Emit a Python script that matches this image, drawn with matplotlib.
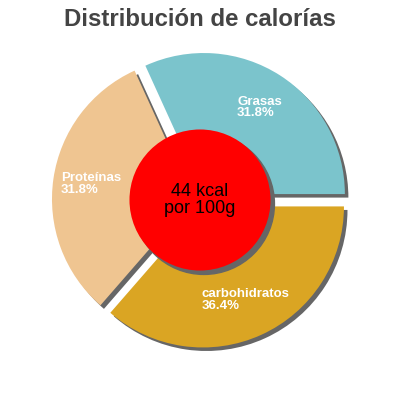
import matplotlib
matplotlib.use("Agg")
import matplotlib.pyplot as plt
from matplotlib.patches import Circle, Shadow

# ================= DATOS ===================
nombres = ["Grasas", "Proteínas", "carbohidratos"]
porcentajes = [31.8, 31.8, 36.4]
colores = ["#7bc4cc", "#efc591", "#daa523"]
titulo = "Distribución de calorías"
centro_texto = "44 kcal\npor 100g"

plt.rcParams["font.family"] = ["Liberation Sans", "DejaVu Sans"]

fig = plt.figure(figsize=(4, 4), dpi=100)
ax = fig.add_axes([0, 0, 1, 1])

etiquetas = [f"{n}\n{p:.1f}%" for n, p in zip(nombres, porcentajes)]

# sombra gris desplazada a la derecha y abajo (unidades de datos * dpi/72)
sombra = {"ox": 0.018, "oy": -0.018, "facecolor": "#666666",
          "edgecolor": "#666666", "alpha": 1}

ax.pie(porcentajes, labels=etiquetas, colors=colores, startangle=0,
       counterclock=True, explode=[0.05] * 3, labeldistance=0.73,
       shadow=sombra,
       wedgeprops={"linewidth": 0},
       textprops={"ha": "center", "va": "center", "multialignment": "left",
                  "color": "white", "fontsize": 9.5, "fontweight": "bold",
                  "linespacing": 0.95})

# circulo central rojo
circulo = Circle((0, 0), 0.5, facecolor="red", edgecolor="none", zorder=3)
ax.add_patch(circulo)
ax.add_patch(Shadow(circulo, 0.02, -0.02, facecolor="#666666",
                    edgecolor="#666666", alpha=1))
ax.text(0, 0, centro_texto, ha="center", va="center", fontsize=13,
        color="black", linespacing=1.0, zorder=4)

ax.set_xlim(-1.418, 1.418)
ax.set_ylim(-1.418, 1.418)
ax.set_aspect("equal")
ax.axis("off")

fig.text(0.5, 0.98, titulo, ha="center", va="top", fontsize=17.3,
         fontweight="bold", color="#444444")

fig.savefig("out.png", dpi=100)
